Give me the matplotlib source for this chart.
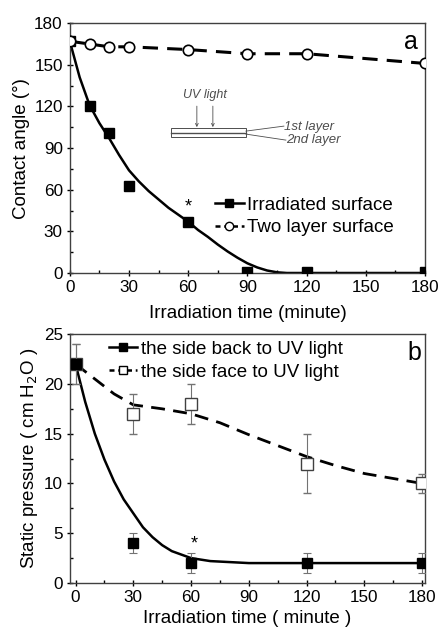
import matplotlib
matplotlib.use("Agg")
import matplotlib.pyplot as plt
from matplotlib.ticker import MultipleLocator

plt.rcParams['font.family'] = ['Liberation Sans', 'DejaVu Sans']

# ---- Panel a data ----
t_a = [0, 10, 20, 30, 60, 90, 120, 180]
irradiated = [167, 120, 101, 63, 37, 1, 1, 1]
two_layer = [167, 165, 163, 163, 161, 158, 158, 151]
fit_a_x = [0, 5, 10, 15, 20, 25, 30, 35, 40, 45, 50, 55, 60, 65, 70, 75, 80, 85, 90, 95, 100, 105, 110, 120, 180]
fit_a_y = [167, 141, 121, 108, 97, 85, 74, 66, 59, 53, 47, 42, 37, 31, 26, 20.5, 15.5, 11, 7, 4, 1.8, 0.5, 0, 0, 0]

# ---- Panel b data ----
t_b = [0, 30, 60, 120, 180]
back = [22, 4, 2, 2, 2]
back_err = [2, 1, 1, 1, 1]
face = [22, 17, 18, 12, 10]
face_err = [2, 2, 2, 3, 1]
fit_back_x = [0, 5, 10, 15, 20, 25, 30, 35, 40, 45, 50, 60, 70, 80, 90, 120, 180]
fit_back_y = [22, 18.2, 15.0, 12.4, 10.2, 8.4, 7.0, 5.6, 4.6, 3.8, 3.2, 2.5, 2.2, 2.1, 2.0, 2.0, 2.0]
fit_face_x = [0, 10, 20, 30, 45, 60, 75, 90, 105, 120, 135, 150, 165, 180]
fit_face_y = [22, 20.5, 19.0, 17.9, 17.5, 17.0, 16.1, 14.9, 13.8, 12.7, 11.8, 11.0, 10.5, 10.0]

fig = plt.figure(figsize=(4.39, 6.27), dpi=100)
ax1 = fig.add_axes([0.159, 0.5646, 0.809, 0.3984])
ax2 = fig.add_axes([0.159, 0.0702, 0.809, 0.3968])

FS = 13.5
TFS = 12.3

def style(ax):
    for s in ax.spines.values():
        s.set_linewidth(1.0)
        s.set_color('0.25')
    ax.tick_params(which='major', direction='inout', length=5, width=1, labelsize=TFS,
                   top=False, right=False, pad=2.5)
    ax.tick_params(which='minor', direction='in', length=2.5, width=1, top=False, right=False)

# ---- Panel a ----
ax1.plot(fit_a_x, fit_a_y, '-', color='black', lw=1.8, zorder=2)
ax1.plot(t_a, irradiated, 's', color='black', ms=7, zorder=3, clip_on=True)
ax1.plot(t_a, two_layer, '--', color='black', lw=2.2, dashes=(5, 3), zorder=2)
ax1.plot(t_a, two_layer, 'o', mfc='white', mec='black', mew=1.2, ms=7.5, zorder=4)
ax1.set_xlim(0, 180)
ax1.set_ylim(0, 180)
ax1.xaxis.set_major_locator(MultipleLocator(30))
ax1.xaxis.set_minor_locator(MultipleLocator(15))
ax1.yaxis.set_major_locator(MultipleLocator(30))
ax1.yaxis.set_minor_locator(MultipleLocator(15))
style(ax1)
ax1.set_xlabel('Irradiation time (minute)', fontsize=FS, labelpad=7)
ax1.set_ylabel('Contact angle (°)', fontsize=FS, labelpad=3)
ax1.text(0.98, 0.924, 'a', transform=ax1.transAxes, fontsize=18, ha='right', va='center')
ax1.text(60, 47.5, '*', fontsize=13, ha='center', va='center')

# legend a
h1, = ax1.plot([], [], '-s', color='black', ms=6, lw=1.8)
h2, = ax1.plot([], [], '--o', color='black', mfc='white', ms=6, lw=1.8, dashes=(2, 1.5))
ax1.legend([h1, h2], ['Irradiated surface', 'Two layer surface'], loc='center left',
           bbox_to_anchor=(0.41, 0.226), frameon=False, fontsize=FS, handlelength=1.5,
           handletextpad=0.2, borderpad=0.0, borderaxespad=0.0, labelspacing=0.3)

# inset schematic (axes-fraction coordinates)
tr = ax1.transAxes
def ax_x(px):
    return (px - 70) / 355.0
def ax_y(py):
    return (273 - py) / 250.0
ax1.add_patch(plt.Rectangle((ax_x(171), ax_y(137)), ax_x(246) - ax_x(171), ax_y(128) - ax_y(137),
                            transform=tr, fill=False, lw=0.7, ec='0.3'))
ax1.plot([ax_x(171), ax_x(246)], [ax_y(132.5), ax_y(132.5)], transform=tr, color='0.3', lw=1.0)
for px in (197, 213):
    ax1.annotate('', xy=(ax_x(px), ax_y(127)), xytext=(ax_x(px), ax_y(106)), xycoords=tr,
                 arrowprops=dict(arrowstyle='->', lw=0.6, color='0.3', shrinkA=0, shrinkB=0,
                                 mutation_scale=5))
ax1.text(ax_x(205), ax_y(95), 'UV light', transform=tr, fontsize=9, style='italic',
         ha='center', va='center', color='0.3')
ax1.plot([ax_x(246), ax_x(284)], [ax_y(131), ax_y(126)], transform=tr, color='0.3', lw=0.6)
ax1.plot([ax_x(246), ax_x(286)], [ax_y(134), ax_y(140)], transform=tr, color='0.3', lw=0.6)
ax1.text(ax_x(284), ax_y(126.5), '1st layer', transform=tr, fontsize=9.5, style='italic',
         ha='left', va='center', color='0.3')
ax1.text(ax_x(286), ax_y(140), '2nd layer', transform=tr, fontsize=9.5, style='italic',
         ha='left', va='center', color='0.3')

# ---- Panel b ----
ax2.plot(fit_back_x, fit_back_y, '-', color='black', lw=1.8, zorder=2)
ax2.plot(fit_face_x, fit_face_y, '--', color='black', lw=2.0, dashes=(5, 3), zorder=2)
ax2.errorbar(t_b, face, yerr=face_err, fmt='s', mfc='white', mec='0.25', mew=1.0, ms=8,
             ecolor='0.45', elinewidth=0.8, capsize=3, capthick=0.8, zorder=3)
ax2.errorbar(t_b, back, yerr=back_err, fmt='s', color='black', ms=7.5,
             ecolor='0.45', elinewidth=0.8, capsize=3, capthick=0.8, zorder=4)
ax2.set_xlim(-3, 181.5)
ax2.set_ylim(0, 25)
ax2.xaxis.set_major_locator(MultipleLocator(30))
ax2.xaxis.set_minor_locator(MultipleLocator(15))
ax2.yaxis.set_major_locator(MultipleLocator(5))
ax2.yaxis.set_minor_locator(MultipleLocator(2.5))
style(ax2)
ax2.set_xlabel('Irradiation time ( minute )', fontsize=FS, labelpad=4)
ax2.set_ylabel('Static pressure ( cm H$_2$O )', fontsize=FS, labelpad=3)
ax2.text(0.99, 0.924, 'b', transform=ax2.transAxes, fontsize=18, ha='right', va='center')
ax2.text(61.5, 3.9, '*', fontsize=13, ha='center', va='center')

h3, = ax2.plot([], [], '-s', color='black', ms=6, lw=1.8)
h4, = ax2.plot([], [], '--s', color='black', mfc='white', ms=6, lw=1.8, dashes=(2, 1.5))
ax2.legend([h3, h4], ['the side back to UV light', 'the side face to UV light'], loc='center left',
           bbox_to_anchor=(0.11, 0.893), frameon=False, fontsize=FS, handlelength=1.5,
           handletextpad=0.2, borderpad=0.0, borderaxespad=0.0, labelspacing=0.3)

fig.savefig('out.png', dpi=100)
